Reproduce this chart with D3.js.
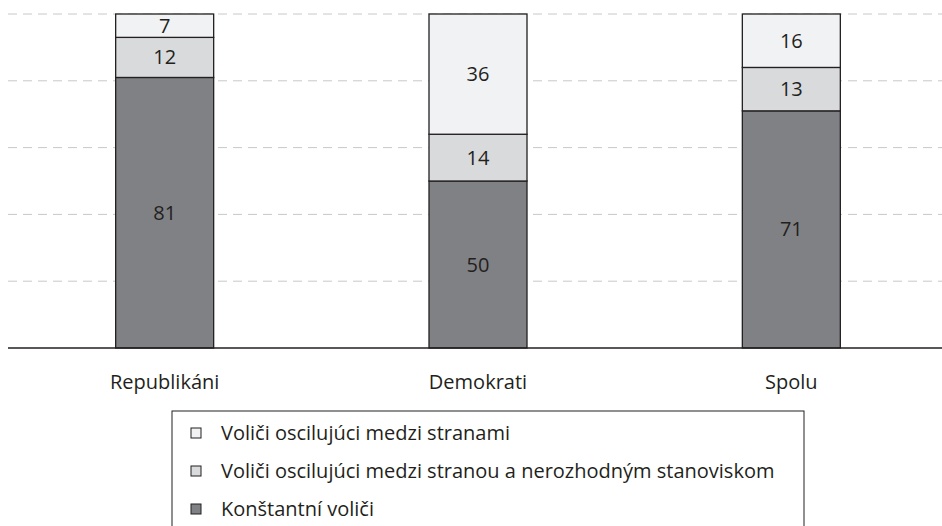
<!DOCTYPE html>
<html>
<head>
<meta charset="utf-8">
<script src="https://cdn.jsdelivr.net/npm/d3@7"></script>
<style>
  body { margin: 0; background: #fff; }
  svg { display: block; font-family: "Open Sans", "Noto Sans", sans-serif; }
</style>
</head>
<body>
<div class="chart"></div>
<script>
// data
const categories = ["Republikáni", "Demokrati", "Spolu"];
const konstantni = [81, 50, 71];
const nerozhodni = [12, 14, 13];
const medziStranami = [7, 36, 16];
const seriesNames = [
  "Voliči oscilujúci medzi stranami",
  "Voliči oscilujúci medzi stranou a nerozhodným stanoviskom",
  "Konštantní voliči"
];
const yTicks = [20, 40, 60, 80, 100];

const width = 942, height = 526;
const colors = ["#f1f2f3", "#d9dadb", "#808184"];
const stroke = "#231f20";

const svg = d3.select(".chart").append("svg")
  .attr("width", width)
  .attr("height", height);

const y = d3.scaleLinear().domain([0, 100]).range([348, 14]);
const x = d3.scalePoint().domain(categories).range([8, 948]).padding(0.5);
const barW = 98;

// gridlines
svg.append("g").selectAll("line")
  .data(yTicks)
  .join("line")
  .attr("x1", 8).attr("x2", width)
  .attr("y1", d => y(d)).attr("y2", d => y(d))
  .attr("stroke", "#c8c8c8")
  .attr("stroke-width", 1)
  .attr("stroke-dasharray", "9,6");

// stacking: bottom -> top
const rows = categories.map((c, i) => ({
  cat: c,
  konst: konstantni[i],
  nero: nerozhodni[i],
  medzi: medziStranami[i]
}));
const stack = d3.stack().keys(["konst", "nero", "medzi"]);
const layers = stack(rows);
const layerColor = { konst: colors[2], nero: colors[1], medzi: colors[0] };

const gBars = svg.append("g");
layers.forEach(layer => {
  const g = gBars.append("g");
  g.selectAll("rect")
    .data(layer)
    .join("rect")
    .attr("x", d => x(d.data.cat) - barW / 2)
    .attr("y", d => y(d[1]))
    .attr("width", barW)
    .attr("height", d => y(d[0]) - y(d[1]))
    .attr("fill", layerColor[layer.key])
    .attr("stroke", stroke)
    .attr("stroke-width", 1.3);
  g.selectAll("text")
    .data(layer)
    .join("text")
    .attr("x", d => x(d.data.cat))
    .attr("y", d => (y(d[0]) + y(d[1])) / 2)
    .attr("dy", "0.35em")
    .attr("text-anchor", "middle")
    .attr("font-size", 20)
    .attr("fill", stroke)
    .text(d => d.data[layer.key]);
});

// baseline
svg.append("line")
  .attr("x1", 8).attr("x2", width)
  .attr("y1", y(0)).attr("y2", y(0))
  .attr("stroke", stroke)
  .attr("stroke-width", 1.3);

// category labels
svg.append("g").selectAll("text")
  .data(categories)
  .join("text")
  .attr("x", d => x(d))
  .attr("y", 389)
  .attr("text-anchor", "middle")
  .attr("font-size", 20)
  .attr("fill", stroke)
  .text(d => d);

// legend
const legend = svg.append("g");
legend.append("rect")
  .attr("x", 172).attr("y", 411)
  .attr("width", 632).attr("height", 130)
  .attr("fill", "none")
  .attr("stroke", stroke)
  .attr("stroke-width", 1);

const items = legend.selectAll("g.item")
  .data(seriesNames)
  .join("g")
  .attr("class", "item")
  .attr("transform", (d, i) => `translate(191, ${433 + i * 38})`);
items.append("rect")
  .attr("x", 0).attr("y", -5)
  .attr("width", 10).attr("height", 10)
  .attr("fill", (d, i) => colors[i])
  .attr("stroke", stroke)
  .attr("stroke-width", 1);
items.append("text")
  .attr("x", 30)
  .attr("dy", "0.35em")
  .attr("font-size", 20)
  .attr("fill", stroke)
  .text(d => d);
</script>
</body>
</html>
